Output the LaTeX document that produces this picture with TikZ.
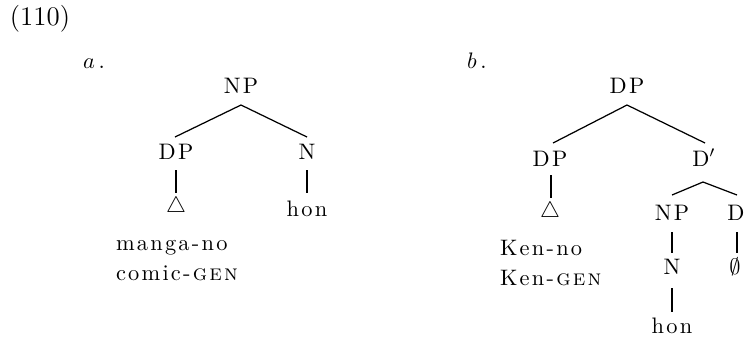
\documentclass[tikz,border=0pt]{standalone}
\usepackage{fontspec}
\setmainfont{Latin Modern Roman}[LetterSpace=10,
  SmallCapsFont={Latin Modern Roman Caps},
  SmallCapsFeatures={LetterSpace=10}]
\begin{document}
\begin{tikzpicture}[x=0.4464pt,y=-0.4464pt,
  lbl/.style={inner sep=0pt,outer sep=0pt,anchor=base},
  wlbl/.style={lbl,anchor=base west},
  tri/.style={inner sep=0pt,outer sep=0pt},
  branch/.style={line width=0.55pt},
  stem/.style={line width=1.3pt}]
\useasboundingbox (0,0) rectangle (745,338);
% example number
\node[wlbl,font=\fontsize{12}{14}\selectfont\addfontfeatures{LetterSpace=0}] (num) at (10,25) {(110)};
% ---- tree a ----
\node[wlbl] (la) at (83,68) {$a$\,.};
\node[lbl] (anp) at (241,93) {NP};
\node[lbl] (adp) at (176,159) {DP};
\node[lbl] (an) at (307,159) {N};
\node[tri] (atri) at (176,207) {$\triangle$};
\node[lbl] (ahon) at (307,216) {hon};
\node[wlbl] (aw1) at (116,250) {manga-no};
\node[wlbl] (aw2) at (116,280) {comic-\textsc{gen}};
\coordinate (aapex) at (241,105);
\draw[branch] (aapex) -- (175,137);
\draw[branch] (aapex) -- (307,137);
\draw[stem] (176,170) -- (176,193);
\draw[stem] (307,170) -- (307,193);
% ---- tree b ----
\node[wlbl] (lb) at (467,68) {$b$\,.};
\node[lbl] (bdp) at (627,93) {DP};
\node[lbl] (bdp2) at (550,166) {DP};
\node[lbl] (bdbar) at (704,166) {D$'$};
\node[tri] (btri) at (550,212) {$\triangle$};
\node[wlbl] (bw1) at (500,255) {Ken-no};
\node[wlbl] (bw2) at (500,285) {Ken-\textsc{gen}};
\node[lbl] (bnp) at (672,220) {NP};
\node[lbl] (bd) at (736,220) {D};
\node[lbl] (bn) at (672,274) {N};
\node[lbl] (bempty) at (735,274) {$\emptyset$};
\node[lbl] (bhon) at (672,333) {hon};
\coordinate (bapex) at (627,105);
\draw[branch] (bapex) -- (553,143);
\draw[branch] (bapex) -- (705,143);
\coordinate (bapex2) at (703,182);
\draw[branch] (bapex2) -- (672,195);
\draw[branch] (bapex2) -- (737,195);
\draw[stem] (551,175) -- (551,198);
\draw[stem] (672,232) -- (672,253);
\draw[stem] (737,232) -- (737,253);
\draw[stem] (672,288) -- (672,312);
\end{tikzpicture}
\end{document}
